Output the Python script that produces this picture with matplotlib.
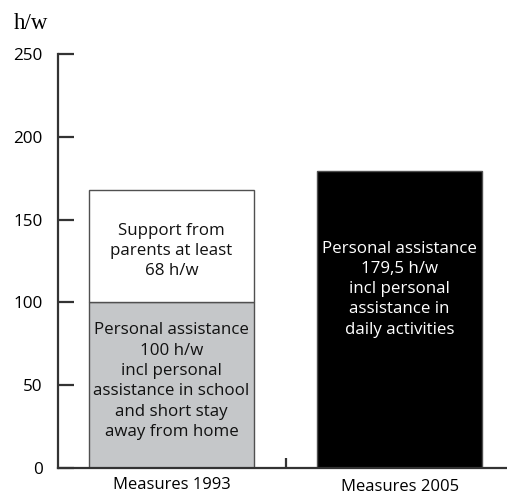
import matplotlib.pyplot as plt
from matplotlib.transforms import ScaledTranslation

# hours per week, by measure
groups = ["Measures 1993", "Measures 2005"]
personal_1993 = 100
parents_1993 = 68
personal_2005 = 179.5

label_parents = "Support from\nparents at least\n68 h/w"
label_pa_1993 = ("Personal assistance\n100 h/w\nincl personal\n"
                 "assistance in school\nand short stay\naway from home")
label_pa_2005 = ("Personal assistance\n179,5 h/w\nincl personal\n"
                 "assistance in\ndaily activities")

plt.rcParams['font.family'] = ['Open Sans', 'DejaVu Sans']

fig = plt.figure(figsize=(5.07, 4.96), dpi=100)
ax = fig.add_axes([58 / 507, 28 / 496, 1 - 58 / 507, 414 / 496])

w = 0.724
edge = '#505050'
ax.bar(0, personal_1993, width=w, color='#c5c7c9', edgecolor=edge, linewidth=1)
ax.bar(0, parents_1993, bottom=personal_1993, width=w, color='white',
       edgecolor=edge, linewidth=1)
ax.bar(1, personal_2005, width=w, color='black', edgecolor=edge, linewidth=1)

fs = 12.2
ls = 1.36
ax.text(0, 131, label_parents, ha='center', va='center', fontsize=fs,
        linespacing=ls, color='#111111')
ax.text(0, 52.5, label_pa_1993, ha='center', va='center', fontsize=fs,
        linespacing=ls, color='#111111')
ax.text(1, 108, label_pa_2005, ha='center', va='center', fontsize=fs,
        linespacing=ls, color='white')

ax.set_xlim(-0.498, 1.471)
ax.set_ylim(0, 250)

for s in ['top', 'right']:
    ax.spines[s].set_visible(False)
for s in ['left', 'bottom']:
    ax.spines[s].set_color('#333333')
    ax.spines[s].set_linewidth(1.6)

ax.set_yticks([0, 50, 100, 150, 200, 250])
ax.tick_params(axis='y', direction='in', length=11.5, width=1.6,
               color='#333333', pad=11, labelsize=12.3)
ax.set_xticks([0, 1])
ax.set_xticklabels(groups)
ax.tick_params(axis='x', which='major', length=0, pad=6.5, labelsize=12)
ax.set_xticks([0.5], minor=True)
ax.tick_params(axis='x', which='minor', direction='in', length=7, width=1.6,
               color='#333333')

# second group label sits a little lower
lab = ax.get_xticklabels()[1]
lab.set_transform(lab.get_transform()
                  + ScaledTranslation(0, -2 / 100, fig.dpi_scale_trans))

fig.text(14 / 507, 1 - 29 / 496, "h/w", family='Liberation Serif', fontsize=16.5,
         va='baseline', ha='left')

fig.savefig('out.png', dpi=100)
